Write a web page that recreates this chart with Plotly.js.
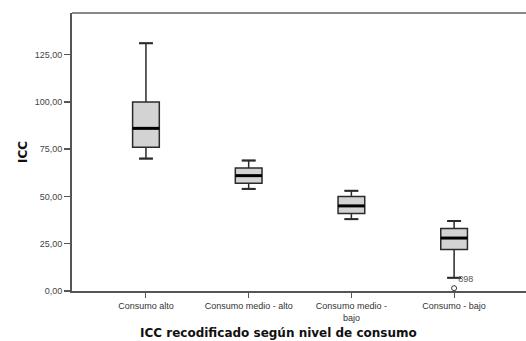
<!DOCTYPE html>
<html><head><meta charset="utf-8">
<script src="https://cdn.plot.ly/plotly-3.0.1.min.js"></script>
<style>html,body{margin:0;padding:0;background:#fff}#c{width:526px;height:341px}</style>
</head><body><div id="c"></div>
<script>
const categories = ["Consumo alto", "Consumo medio - alto", "Consumo medio -<br>bajo", "Consumo - bajo"];
const lowerWhisker = [70, 54, 38, 7];
const q1 = [76, 57, 41, 22];
const median = [86, 61, 45, 28];
const q3 = [100, 65, 50, 33];
const upperWhisker = [131, 69, 53, 37];
const outlierCat = [3];
const outlierVal = [1.5];
const outlierId = ["898"];
const yTickVals = [0, 25, 50, 75, 100, 125];
const yTickText = ["0,00", "25,00", "50,00", "75,00", "100,00", "125,00"];

const pos = categories.map((c, i) => i);
const boxW = 0.26, capHalf = 0.068, medHalf = boxW / 2;

const capX = [], capY = [], medX = [], medY = [];
pos.forEach((p, i) => {
  capX.push(p - capHalf, p + capHalf, null, p - capHalf, p + capHalf, null);
  capY.push(upperWhisker[i], upperWhisker[i], null, lowerWhisker[i], lowerWhisker[i], null);
  medX.push(p - medHalf, p + medHalf, null);
  medY.push(median[i], median[i], null);
});

const traces = [
  {type: 'box', x: pos, q1: q1, median: median, q3: q3,
   lowerfence: lowerWhisker, upperfence: upperWhisker,
   width: boxW, boxpoints: false, fillcolor: '#d3d3d3',
   line: {color: '#2b2b2b', width: 1.5}, hoverinfo: 'skip', showlegend: false},
  {type: 'scatter', mode: 'lines', x: capX, y: capY,
   line: {color: '#2b2b2b', width: 2}, hoverinfo: 'skip', showlegend: false},
  {type: 'scatter', mode: 'lines', x: medX, y: medY,
   line: {color: '#000', width: 3}, hoverinfo: 'skip', showlegend: false},
  {type: 'scatter', mode: 'markers+text', x: outlierCat, y: outlierVal,
   marker: {symbol: 'circle-open', size: 5, color: '#333', line: {width: 1}},
   text: outlierId, textposition: 'top right',
   textfont: {family: 'Liberation Sans, Arial', size: 9, color: '#555'},
   hoverinfo: 'skip', showlegend: false, cliponaxis: false}
];

const layout = {
  width: 526, height: 341,
  margin: {l: 72, r: 0, t: 13, b: 50},
  paper_bgcolor: '#fff', plot_bgcolor: '#fff',
  font: {family: 'Liberation Sans, Arial, sans-serif', size: 9, color: '#444'},
  showlegend: false,
  xaxis: {
    range: [-0.72, 3.70], tickvals: pos, ticktext: categories,
    showgrid: false, zeroline: false, showline: true, linecolor: '#555', linewidth: 2,
    ticks: 'outside', ticklen: 5, tickcolor: '#555', tickwidth: 1,
    tickfont: {size: 9, color: '#333'}, fixedrange: true
  },
  yaxis: {
    range: [0, 147], tickvals: yTickVals, ticktext: yTickText,
    showgrid: false, zeroline: false, showline: true, linecolor: '#555', linewidth: 2,
    ticks: 'outside', ticklen: 6, tickcolor: '#555', tickwidth: 1.5,
    tickfont: {size: 9, color: '#444'},
    title: {text: '<b>ICC</b>', font: {size: 12, color: '#111', family: 'DejaVu Sans, Arial'}, standoff: 4},
    fixedrange: true
  },
  shapes: [
    {type: 'line', xref: 'paper', yref: 'paper', x0: 0, x1: 1, y0: 1, y1: 1,
     line: {color: '#888', width: 2}}
  ],
  annotations: [
    {text: '<b>ICC recodificado según nivel de consumo</b>', xref: 'paper', yref: 'paper',
     x: 0.454, y: 0, yshift: -42, xanchor: 'center', yanchor: 'middle', showarrow: false,
     font: {size: 12, color: '#111', family: 'DejaVu Sans, Arial'}}
  ]
};

Plotly.newPlot('c', traces, layout, {displayModeBar: false, staticPlot: true});
</script></body></html>
